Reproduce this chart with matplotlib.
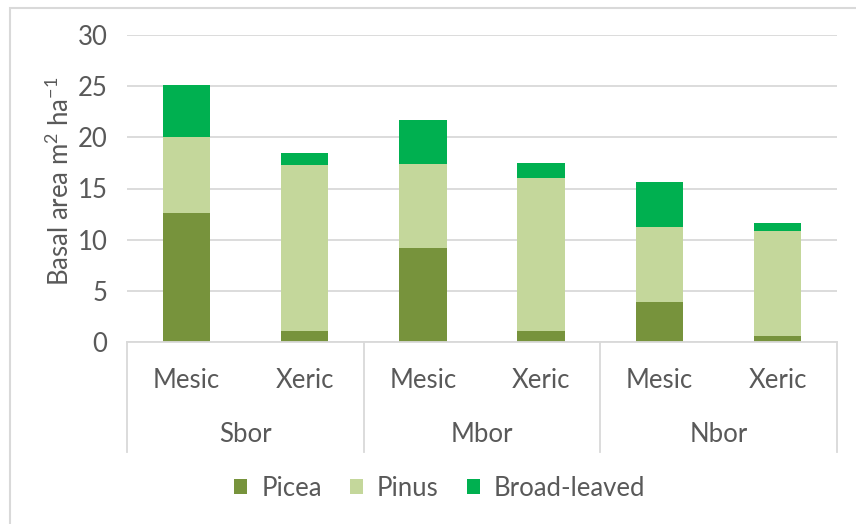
import matplotlib
matplotlib.use("Agg")
import matplotlib.pyplot as plt
from matplotlib.patches import Rectangle
from matplotlib.lines import Line2D
from matplotlib.transforms import blended_transform_factory

# basal area per zone / site type, m2 per ha
zones = ["Sbor", "Mbor", "Nbor"]
sites = ["Mesic", "Xeric"]
picea = [12.6, 1.1, 9.2, 1.1, 3.9, 0.6]
pinus = [7.4, 16.2, 8.2, 14.9, 7.3, 10.2]
broad = [5.1, 1.2, 4.3, 1.5, 4.4, 0.8]
species = ["Picea", "Pinus", "Broad-leaved"]
yticks = [0, 5, 10, 15, 20, 25, 30]

colors = ["#77933C", "#C4D79B", "#00B050"]
grey = "#D9D9D9"
txt = "#595959"

plt.rcParams["font.family"] = ["Lato", "DejaVu Sans"]
plt.rcParams["mathtext.fontset"] = "custom"
plt.rcParams["mathtext.rm"] = "Lato"
fs = 18.5

W, H = 856, 524
fig = plt.figure(figsize=(W / 100, H / 100), dpi=100)


def px(x0, y0, x1, y1):
    return [x0 / W, 1 - y1 / H, (x1 - x0) / W, (y1 - y0) / H]


ax = fig.add_axes(px(127, 35, 837, 342))

x = list(range(len(picea)))
bottom2 = [a + b for a, b in zip(picea, pinus)]
bars = []
bars.append(ax.bar(x, picea, 0.4, color=colors[0]))
bars.append(ax.bar(x, pinus, 0.4, bottom=picea, color=colors[1]))
bars.append(ax.bar(x, broad, 0.4, bottom=bottom2, color=colors[2]))

ax.set_xlim(-0.5, len(x) - 0.5)
ax.set_ylim(0, 30)
ax.set_yticks(yticks)
ax.set_xticks([])
ax.yaxis.grid(True, color=grey, lw=1.3)
ax.set_axisbelow(True)
for s in ["top", "right", "left"]:
    ax.spines[s].set_visible(False)
ax.spines["bottom"].set_color(grey)
ax.spines["bottom"].set_linewidth(1.3)
ax.tick_params(axis="y", length=0, pad=14, labelsize=fs, labelcolor=txt)

# two-level category axis
tr = blended_transform_factory(ax.transData, fig.transFigure)
for i in x:
    ax.text(i, 1 - 380 / H, sites[i % 2], transform=tr, ha="center", va="center",
            fontsize=fs, color=txt)
for g, z in enumerate(zones):
    ax.text(2 * g + 0.5, 1 - 435 / H, z, transform=tr, ha="center", va="center",
            fontsize=fs, color=txt)
for b in [-0.5, 1.5, 3.5, 5.5]:
    fig.add_artist(Line2D([b, b], [1 - 342 / H, 1 - 452 / H], transform=tr,
                          color=grey, lw=1.3))

fig.text(60 / W, 1 - 181 / H, "Basal area m$^{\\mathregular{2}}$ ha$^{\\mathregular{-1}}$",
         rotation=90, ha="center", va="center", fontsize=fs, color=txt)

fig.legend(bars, species, loc="center", bbox_to_anchor=(440 / W, 1 - 488 / H), ncol=3,
           frameon=False, fontsize=fs, labelcolor=txt, handlelength=0.5,
           handleheight=0.5, handletextpad=0.55, columnspacing=1.1)

# chart frame
fig.add_artist(Rectangle((10 / W, -0.5), 1.0, 1.5 - 8 / H, transform=fig.transFigure,
                         fill=False, edgecolor=grey, lw=1.5))

fig.savefig("out.png", dpi=100)
